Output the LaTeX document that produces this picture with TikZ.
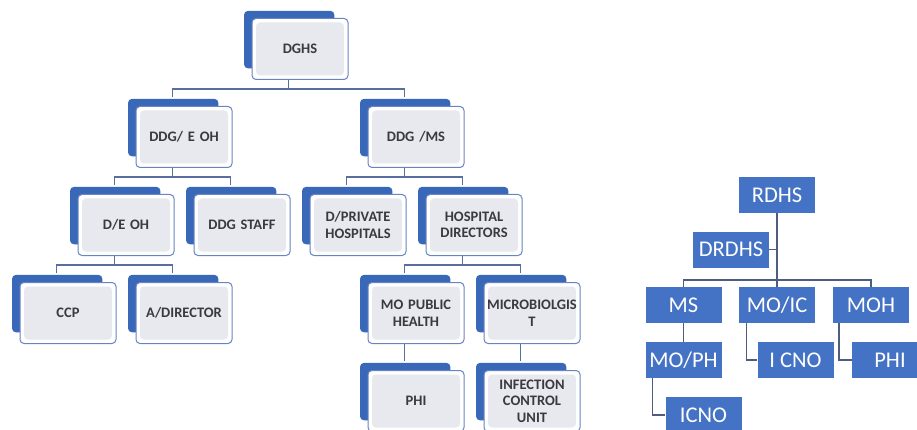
\documentclass[tikz,border=0pt]{standalone}
\usepackage{fontspec}
\setmainfont{Carlito}
\usepackage{tikz}
\usetikzlibrary{positioning,shadows}
\usepackage{xcolor}
\definecolor{hsblue}{RGB}{68,114,196}
\definecolor{hsshadow}{RGB}{58,104,184}
\definecolor{hsedge}{RGB}{104,132,194}
\definecolor{hsgrey}{RGB}{231,233,239}
\definecolor{hstext}{RGB}{58,58,62}
\definecolor{hsline}{RGB}{88,110,160}
\definecolor{hsdark}{RGB}{78,92,128}
\tikzstyle{link} = [line width=1.5pt, color=hsline]
\tikzstyle{rlink} = [line width=1.5pt, color=hsdark]
\tikzstyle{orgbox} = [rectangle, rounded corners=4pt, minimum width=96pt, minimum height=61pt, text width=96pt, inner sep=0pt, align=center, draw=hsedge, line width=1pt, fill=white, text=hstext, font=\fontsize{14.5}{16.5}\selectfont\bfseries, general shadow={fill=hsshadow, shadow xshift=-11.5pt, shadow yshift=10pt, shadow scale=0.94}, path picture={\fill[hsgrey] ([xshift=4pt,yshift=-4pt]path picture bounding box.north west) rectangle ([xshift=-4pt,yshift=4pt]path picture bounding box.south east);}]
\tikzstyle{rbox} = [rectangle, minimum width=76pt, minimum height=36pt, inner sep=0pt, fill=hsblue, text=white, font=\fontsize{22.5}{24}\selectfont]

\begin{document}
\begin{tikzpicture}[x=1pt, y=-1pt, node distance=88pt]
\useasboundingbox (0,0) rectangle (917,430);
% Ministry chart
\node (dghs) [orgbox] at (300,49) {DGHS};
\node (ddgeoh) [orgbox, below of=dghs, xshift=-116pt] {DDG/ E OH};
\node (ddgms) [orgbox, below of=dghs, xshift=116pt] {DDG /MS};
\node (deoh) [orgbox, below of=ddgeoh, xshift=-58pt] {D/E OH};
\node (ddgstaff) [orgbox, below of=ddgeoh, xshift=58pt] {DDG STAFF};
\node (dprivate) [orgbox, below of=ddgms, xshift=-58pt] {D/PRIVATE\\HOSPITALS};
\node (hospdir) [orgbox, below of=ddgms, xshift=58pt] {HOSPITAL\\DIRECTORS};
\node (ccp) [orgbox, below of=deoh, xshift=-58pt] {CCP};
\node (adirector) [orgbox, below of=deoh, xshift=58pt] {A/DIRECTOR};
\node (mopublic) [orgbox, below of=hospdir, xshift=-58pt] {MO PUBLIC\\HEALTH};
\node (microbio) [orgbox, below of=hospdir, xshift=58pt] {MICROBIOLGIS\\T};
\node (phi) [orgbox, below of=mopublic] {PHI};
\node (icu) [orgbox, below of=microbio] {INFECTION\\CONTROL\\UNIT};

% Ministry links
\draw[link] ([xshift=-11.5pt]dghs.south) -- ++(0,9) -| ([xshift=-11.5pt,yshift=9pt]ddgeoh.north);
\draw[link] ([xshift=-11.5pt]dghs.south) -- ++(0,9) -| ([xshift=-11.5pt,yshift=9pt]ddgms.north);
\draw[link] ([xshift=-11.5pt]ddgeoh.south) -- ++(0,9) -| ([xshift=-11.5pt,yshift=9pt]deoh.north);
\draw[link] ([xshift=-11.5pt]ddgeoh.south) -- ++(0,9) -| ([xshift=-11.5pt,yshift=9pt]ddgstaff.north);
\draw[link] ([xshift=-11.5pt]ddgms.south) -- ++(0,9) -| ([xshift=-11.5pt,yshift=9pt]dprivate.north);
\draw[link] ([xshift=-11.5pt]ddgms.south) -- ++(0,9) -| ([xshift=-11.5pt,yshift=9pt]hospdir.north);
\draw[link] ([xshift=-11.5pt]deoh.south) -- ++(0,9) -| ([xshift=-11.5pt,yshift=9pt]ccp.north);
\draw[link] ([xshift=-11.5pt]deoh.south) -- ++(0,9) -| ([xshift=-11.5pt,yshift=9pt]adirector.north);
\draw[link] ([xshift=-11.5pt]hospdir.south) -- ++(0,9) -| ([xshift=-11.5pt,yshift=9pt]mopublic.north);
\draw[link] ([xshift=-11.5pt]hospdir.south) -- ++(0,9) -| ([xshift=-11.5pt,yshift=9pt]microbio.north);
\draw[link] ([xshift=-11.5pt]mopublic.south) -- ([xshift=-11.5pt,yshift=9pt]phi.north);
\draw[link] ([xshift=-11.5pt]microbio.south) -- ([xshift=-11.5pt,yshift=9pt]icu.north);

% Regional chart
\node (rdhs) [rbox] at (777,195) {RDHS};
\node (drdhs) [rbox, node distance=54.5pt, below of=rdhs, xshift=-46pt] {DRDHS};
\node (ms) [rbox, node distance=110pt, below of=rdhs, xshift=-93.5pt] {MS};
\node (moic) [rbox, node distance=110pt, below of=rdhs] {MO/IC};
\node (moh) [rbox, node distance=110pt, below of=rdhs, xshift=94pt] {MOH};
\node (moph) [rbox, node distance=55pt, below of=ms] {MO/PH};
\node (icnoic) [rbox, node distance=55pt, below of=moic, xshift=18.5pt] {I CNO};
\node (phimoh) [rbox, node distance=55pt, below of=moh, xshift=19pt] {PHI};
\node (icnoph) [rbox, node distance=55pt, below of=moph, xshift=20pt] {ICNO};

% Regional links
\draw[rlink] (rdhs.south) -- ++(0,67) -| (ms.north);
\draw[rlink] (rdhs.south) -- (moic.north);
\draw[rlink] (rdhs.south) -- ++(0,67) -| (moh.north);
\draw[rlink] (drdhs.east) -- (drdhs.east -| rdhs.south);
\draw[rlink] (ms.south) -- (moph.north);
\draw[rlink] ([xshift=-30.5pt]moic.south) |- (icnoic.west);
\draw[rlink] ([xshift=-32pt]moh.south) |- (phimoh.west);
\draw[rlink] ([xshift=-31pt]moph.south) |- (icnoph.west);
\end{tikzpicture}
\end{document}
